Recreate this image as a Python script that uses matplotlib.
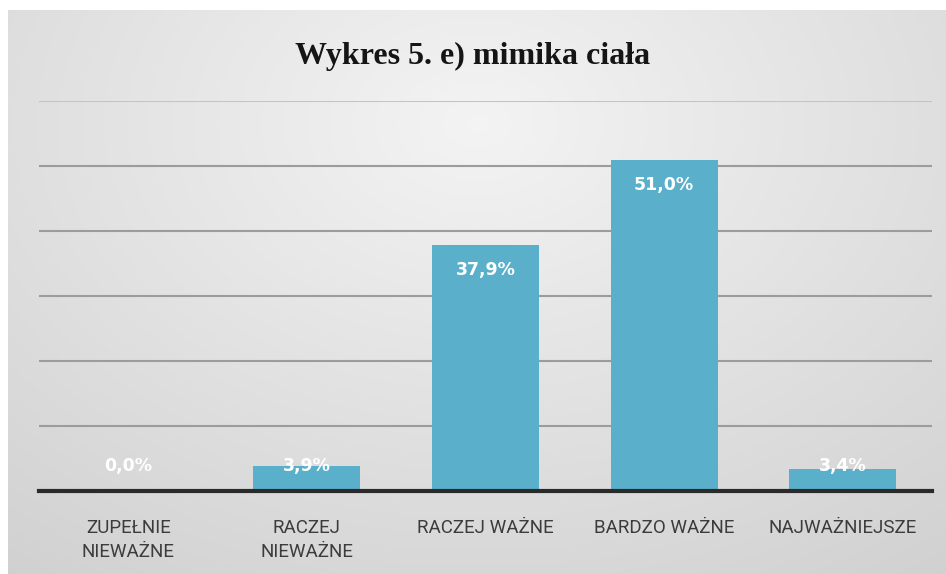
import numpy as np
import matplotlib.pyplot as plt

categories = ['ZUPEŁNIE\nNIEWAŻNE', 'RACZEJ\nNIEWAŻNE', 'RACZEJ WAŻNE', 'BARDZO WAŻNE', 'NAJWAŻNIEJSZE']
values = [0.0, 3.9, 37.9, 51.0, 3.4]
labels = ['0,0%', '3,9%', '37,9%', '51,0%', '3,4%']

fig = plt.figure(figsize=[9.46, 5.74], dpi=100)
fig.patch.set_facecolor('white')

# gray chart area with soft radial shading
bg = fig.add_axes([8 / 946, 0, 1 - 8 / 946, 1 - 10 / 574])
bg.set_axis_off()
yy, xx = np.mgrid[0:1:200j, 0:1:300j]
r = np.sqrt(((xx - 0.5) / 0.8) ** 2 + ((yy - 0.2) / 0.95) ** 2)
shade = np.clip(0.955 - 0.13 * r, 0.81, 0.96)
bg.imshow(np.dstack([shade, shade, shade]), aspect='auto', extent=[0, 1, 0, 1], origin='upper')

ax = fig.add_axes([39 / 946, 1 - 491 / 574, (932 - 39) / 946, 390 / 574])
ax.patch.set_alpha(0)
x = np.arange(len(categories))
ax.bar(x, values, width=0.6, color='#5aafcb', zorder=3)
ax.set_xlim(-0.5, len(categories) - 0.5)
ax.set_ylim(0, 60)
ax.set_yticks([10, 20, 30, 40, 50, 60])
ax.grid(axis='y', color='#9c9c9c', linewidth=1.5, zorder=0)
ax.get_ygridlines()[-1].set_color('#c4c4c4')
ax.yaxis.set_tick_params(length=0, labelleft=False)
for s in ['left', 'right', 'top']:
    ax.spines[s].set_visible(False)
ax.spines['bottom'].set_color('#2a2a2a')
ax.spines['bottom'].set_linewidth(3)
ax.spines['bottom'].set_zorder(4)
ax.set_xticks(x)
ax.set_xticklabels(categories, fontsize=13.5, color='#3c3c3c', linespacing=1.45,
                   family='Roboto')
ax.xaxis.set_tick_params(length=0, pad=20)

for i, v in enumerate(values):
    ax.text(i, max(v - 3.9, 3.9), labels[i], ha='center', va='center',
            color='white', fontsize=12.5, fontweight='bold', zorder=5)

fig.text(0.5, 1 - 56 / 574, 'Wykres 5. e) mimika ciała', ha='center', va='center',
         fontsize=23, fontweight='bold', family='Liberation Serif', color='#151515')

fig.savefig('out.png', dpi=100)
